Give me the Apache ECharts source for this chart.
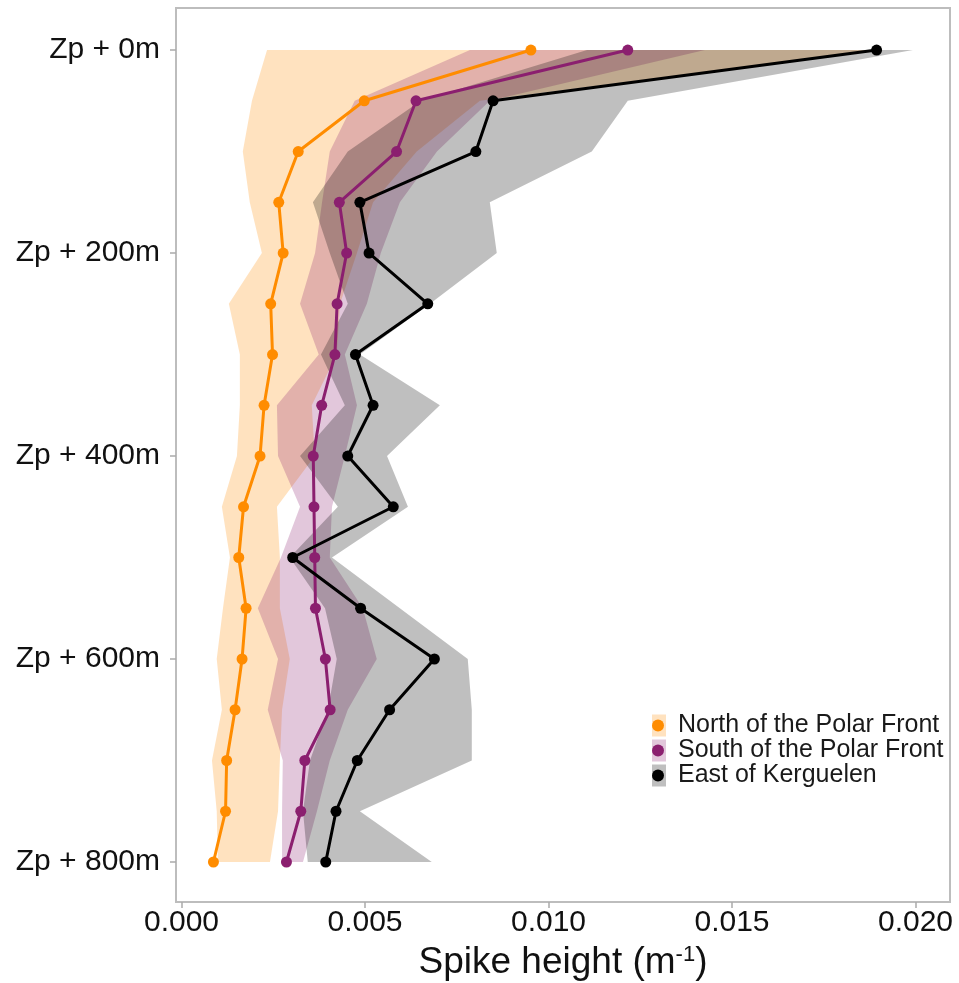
<!DOCTYPE html>
<html>
<head>
<meta charset="utf-8">
<script src="https://cdn.jsdelivr.net/npm/echarts@6/dist/echarts.min.js"></script>
<style>
  html, body { margin: 0; padding: 0; background: #fff; }
  #chart { width: 959px; height: 983px; }
</style>
</head>
<body>
<div id="chart"></div>
<script>
// depth below Zp (m)
var depths = [0, 50, 100, 150, 200, 250, 300, 350, 400, 450, 500, 550, 600, 650, 700, 750, 800];
var depthTicks = [0, 200, 400, 600, 800];
var xTicks = [0, 0.005, 0.010, 0.015, 0.020];

var groupNames = ['North of the Polar Front', 'South of the Polar Front', 'East of Kerguelen'];

// mean spike height (m-1)
var northMean = [0.00952, 0.00498, 0.00318, 0.00265, 0.00277, 0.00243, 0.00248, 0.00225, 0.00214,
                 0.00169, 0.00156, 0.00176, 0.00165, 0.00146, 0.00123, 0.00120, 0.00087];
var southMean = [0.01216, 0.00639, 0.00586, 0.00430, 0.00450, 0.00424, 0.00418, 0.00382, 0.00359,
                 0.00361, 0.00363, 0.00365, 0.00392, 0.00405, 0.00336, 0.00325, 0.00286];
var eastMean  = [0.01894, 0.00849, 0.00802, 0.00486, 0.00511, 0.00671, 0.00474, 0.00522, 0.00453,
                 0.00577, 0.00303, 0.00488, 0.00689, 0.00567, 0.00479, 0.00421, 0.00393];

// ribbons (lower / upper)
var northLow  = [0.00233, 0.00192, 0.00167, 0.00186, 0.00219, 0.00129, 0.00159, 0.00159, 0.00151,
                 0.00110, 0.00132, 0.00113, 0.00096, 0.00110, 0.00083, 0.00096, 0.00099];
var northHigh = [0.01895, 0.00813, 0.00641, 0.00522, 0.00478, 0.00432, 0.00423, 0.00355, 0.00363,
                 0.00260, 0.00268, 0.00268, 0.00295, 0.00274, 0.00268, 0.00263, 0.00241];
var southLow  = [0.00786, 0.00472, 0.00404, 0.00383, 0.00364, 0.00323, 0.00374, 0.00260, 0.00263,
                 0.00323, 0.00271, 0.00208, 0.00263, 0.00235, 0.00276, 0.00274, 0.00274];
var southHigh = [0.01426, 0.00840, 0.00696, 0.00595, 0.00543, 0.00505, 0.00445, 0.00478, 0.00445,
                 0.00410, 0.00404, 0.00494, 0.00532, 0.00453, 0.00404, 0.00369, 0.00331];
var eastLow   = [0.01105, 0.00652, 0.00453, 0.00358, 0.00404, 0.00453, 0.00380, 0.00445, 0.00323,
                 0.00426, 0.00295, 0.00391, 0.00423, 0.00399, 0.00350, 0.00331, 0.00344];
var eastHigh  = [0.01993, 0.01216, 0.01118, 0.00840, 0.00859, 0.00677, 0.00486, 0.00704, 0.00560,
                 0.00617, 0.00410, 0.00595, 0.00780, 0.00791, 0.00791, 0.00486, 0.00682];

var lineColors = ['#FF8C00', '#8B1F6F', '#000000'];
var bandColors = ['rgba(255,140,0,0.25)', 'rgba(139,31,111,0.25)', 'rgba(0,0,0,0.25)'];

var font = "'Liberation Sans', Arial, sans-serif";

function pairs(vals) {
    return vals.map(function (v, i) { return [v, depths[i]]; });
}

function bandSeries(name, lo, hi, color) {
    return {
        name: name,
        type: 'custom',
        coordinateSystem: 'cartesian2d',
        silent: true,
        z: 1,
        itemStyle: {color: color},
        data: [[lo[0], depths[0]]],
        renderItem: function (params, api) {
            var pts = [];
            for (var i = 0; i < depths.length; i++) {
                pts.push(api.coord([lo[i], depths[i]]));
            }
            for (var j = depths.length - 1; j >= 0; j--) {
                pts.push(api.coord([hi[j], depths[j]]));
            }
            return {type: 'polygon', shape: {points: pts}, style: {fill: color}};
        }
    };
}

function lineSeries(name, vals, color) {
    return {
        name: name,
        type: 'line',
        z: 3,
        symbol: 'circle',
        symbolSize: 11,
        showSymbol: true,
        itemStyle: {color: color},
        lineStyle: {color: color, width: 3},
        data: pairs(vals)
    };
}

var legendText = {fontFamily: font, fontSize: 25, lineHeight: 22, padding: [0, 0, 0, 8]};

var chart = echarts.init(document.getElementById('chart'));
chart.setOption({
    animation: false,
    backgroundColor: '#fff',
    grid: {
        left: 176, right: 9, top: 8, bottom: 81,
        outerBoundsMode: 'none',
        show: true, borderColor: '#bdbdbd', borderWidth: 2, backgroundColor: '#fff'
    },
    legend: [{
        orient: 'vertical', left: 647, top: 708, itemGap: 0,
        itemWidth: 14, itemHeight: 22, icon: 'rect',
        selectedMode: false,
        textStyle: Object.assign({color: 'rgba(0,0,0,0)'}, legendText),
        data: groupNames.map(function (n, i) {
            return {name: n, icon: 'rect', itemStyle: {color: bandColors[i]}};
        })
    }, {
        orient: 'vertical', left: 647, top: 708, itemGap: 0,
        itemWidth: 14, itemHeight: 12,
        textStyle: Object.assign({color: '#1a1a1a'}, legendText),
        data: groupNames.map(function (n, i) {
            return {name: n, icon: 'circle', itemStyle: {color: lineColors[i]}};
        })
    }],
    xAxis: {
        type: 'value',
        min: -0.00015,
        max: 0.02094,
        name: '{n|Spike height (m}{s|-1}{n|)}',
        nameLocation: 'middle',
        nameGap: 42,
        nameTextStyle: {
            fontFamily: font, color: '#111',
            rich: {
                n: {fontFamily: font, fontSize: 37, color: '#111'},
                s: {fontFamily: font, fontSize: 22, color: '#111', verticalAlign: 'top'}
            }
        },
        axisLine: {show: false, onZero: false},
        splitLine: {show: false},
        axisTick: {show: true, length: 6, customValues: xTicks, lineStyle: {color: '#aaa', width: 1.5}},
        axisLabel: {
            customValues: xTicks,
            margin: 6,
            fontFamily: font, fontSize: 30, color: '#111',
            formatter: function (v) { return v.toFixed(3); }
        }
    },
    yAxis: {
        type: 'value',
        inverse: true,
        min: -41.4,
        max: 839.4,
        axisLine: {show: false, onZero: false},
        splitLine: {show: false},
        axisTick: {show: true, length: 6, customValues: depthTicks, lineStyle: {color: '#aaa', width: 1.5}},
        axisLabel: {
            customValues: depthTicks,
            margin: 16,
            fontFamily: font, fontSize: 30, color: '#111',
            formatter: function (v) { return 'Zp + ' + v + 'm'; }
        }
    },
    series: [
        bandSeries(groupNames[0], northLow, northHigh, bandColors[0]),
        bandSeries(groupNames[1], southLow, southHigh, bandColors[1]),
        bandSeries(groupNames[2], eastLow, eastHigh, bandColors[2]),
        lineSeries(groupNames[0], northMean, lineColors[0]),
        lineSeries(groupNames[1], southMean, lineColors[1]),
        lineSeries(groupNames[2], eastMean, lineColors[2])
    ]
});
</script>
</body>
</html>
